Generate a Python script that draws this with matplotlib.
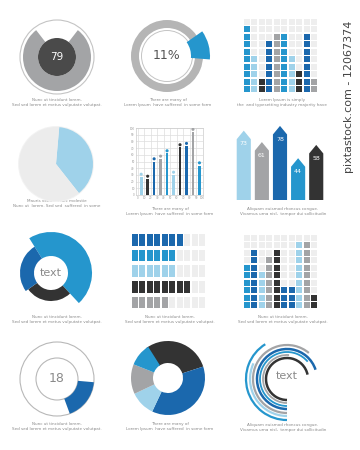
import numpy as np
import matplotlib
matplotlib.use("Agg")
import matplotlib.pyplot as plt
from matplotlib.patches import Wedge, Circle, Polygon, Arc

W, H = 360, 450
DB = '#1b68ad'; MB = '#2596cd'; LB = '#9fd2ea'; GR = '#a3a4a6'; DK = '#333333'
EMPTY = '#eeeeee'; LINE = '#c4c4c4'; TXT = '#8a8a8a'

# ---------------- data ----------------
gauge_value = 79
percent_value = 11
grid1_heights = [9, 5, 2, 7, 8, 8, 5, 3, 8, 2]
grid1_colors = [MB, LB, DK, DB, GR, MB, LB, DK, DB, GR]
pie_share = [38, 62]
bar_values = [27, 24, 50, 54, 62, 30, 71, 73, 94, 44]
dot_values = [31, 28, 54, 58, 66, 34, 75, 77, 98, 48]
bar_colors = [LB, DK, DB, GR, MB, LB, DK, DB, GR, MB]
arrow_values = [73, 61, 78, 44, 58]
arrow_colors = [LB, GR, DB, MB, DK]
seg_share = [47, 27, 26]
seg_outer = [41, 28, 31]
seg_colors = [MB, DK, DB]
hbar_counts = [7, 6, 6, 8, 5]
hbar_colors = [DB, MB, LB, DK, GR]
grid2_heights = [6, 8, 5, 7, 8, 3, 3, 9, 9, 2]
grid2_colors = [MB, DB, LB, GR, DK, DB, DB, LB, GR, DK]
ring_value = 18
donut_shares = [30, 37, 11, 13, 10]
donut_colors = [DK, DB, LB, GR, MB]
arc_radii = [41, 37, 34, 30, 27, 24, 21]
arc_start = [122, 155, 50, 18, 40, 85, 12]
arc_colors = [MB, LB, GR, DB, MB, GR, DK]
arc_widths = [1.6, 1.6, 1.6, 1.8, 1.3, 1.3, 1.8]

captions = [
    ("Nunc ut tincidunt lorem.", "Sed sed lorem et metus vulputate volutpat."),
    ("There are many of", "Lorem Ipsum  have suffered  in some form"),
    ("Lorem Ipsum is simply", "the  and typesetting industry majority have"),
    ("Mauris vehicula nec molestie", "Nunc ut  lorem. Sed sed  suffered  in some"),
    ("There are many of", "Lorem Ipsum  have suffered  in some form"),
    ("Aliquam euismod rhoncus congue.", "Vivamus urna nisl,  tempor dui sollicitudin"),
    ("Nunc ut tincidunt lorem.", "Sed sed lorem et metus vulputate volutpat."),
    ("Nunc ut tincidunt lorem.", "Sed sed lorem et metus vulputate volutpat."),
    ("Nunc ut tincidunt lorem.", "Sed sed lorem et metus vulputate volutpat."),
    ("Nunc ut tincidunt lorem.", "Sed sed lorem et metus vulputate volutpat."),
    ("There are many of", "Lorem Ipsum  have suffered  in some form"),
    ("Aliquam euismod rhoncus congue.", "Vivamus urna nisl,  tempor dui sollicitudin"),
]
caption_x = [57, 168, 282, 57, 170, 283, 57, 170, 283, 57, 170, 283]
caption_y = [100, 100, 100, 201, 209, 209, 317, 317, 317, 424, 424, 425]

fig = plt.figure(figsize=(3.6, 4.5), dpi=100)
fig.patch.set_facecolor('white')

bg = fig.add_axes([0, 0, 1, 1])
bg.set_xlim(0, W); bg.set_ylim(H, 0); bg.axis('off')


def circ_ax(cx, cy, w, h):
    ax = fig.add_axes([(cx - w / 2) / W, 1 - (cy + h / 2) / H, w / W, h / H])
    ax.set_xlim(-w / 2, w / 2); ax.set_ylim(-h / 2, h / 2)
    ax.axis('off')
    return ax


def box_ax(x0, y0, w, h):
    ax = fig.add_axes([x0 / W, 1 - (y0 + h) / H, w / W, h / H])
    return ax


# ---- panel 1: gauge 79 ----
ax = circ_ax(57, 57, 90, 90)
gap = 100 - gauge_value
st = 90 - gap * 3.6 / 2
ax.add_patch(Wedge((0, 0), 34, st - gauge_value * 3.6, st, width=15, color=GR, lw=0))
ax.add_patch(Circle((0, 0), 19, color='#4a4a4a', lw=0))
ax.add_patch(Circle((0, 0), 37, fill=False, ec=LINE, lw=0.8))
ax.text(0, 0, str(gauge_value), color='white', fontsize=7.5, ha='center', va='center')

# ---- panel 2: 11% ----
ax = circ_ax(167, 56, 96, 96)
ax.add_patch(Wedge((0, 0), 36, 0, 360, width=8, color='#b5b5b5', lw=0))
ax.add_patch(Circle((0, 0), 25.5, fill=False, ec=LINE, lw=0.7))
ax.add_patch(Wedge((0, 0), 43, 35 - percent_value * 3.6, 35, width=19, color=MB, lw=0))
ax.text(0, 0, f"{percent_value}%", color='#555555', fontsize=9, ha='center', va='center')

# ---- panel 3: column grid ----
ax = box_ax(243, 18, 75, 75)
cols = np.arange(10)
for r in range(10):
    cc = [grid1_colors[c] if r < grid1_heights[c] else EMPTY for c in cols]
    ax.bar(cols, 0.86, bottom=r + 0.07, width=0.86, color=cc, lw=0)
ax.set_xlim(-0.5, 9.5); ax.set_ylim(0, 10); ax.axis('off')

# ---- panel 4: pie ----
ax = circ_ax(56, 164, 90, 90)
ax.add_patch(Circle((0, 0), 38, color='#f3f3f3', lw=0))
a0 = 85
ax.add_patch(Wedge((0, 0), 37, a0 - pie_share[0] * 3.6, a0, color=LB, lw=0))
ax.add_patch(Wedge((0, 0), 37, a0, a0 + pie_share[1] * 3.6, color='#ececec', lw=0))

# ---- panel 5: bar chart ----
ax = box_ax(136, 128, 67, 67)
pos = np.arange(1, 11)
ax.bar(pos, bar_values, width=0.42, color=bar_colors, zorder=3)
ax.scatter(pos, dot_values, s=5, c=bar_colors, zorder=4, lw=0)
ax.set_ylim(0, 100); ax.set_xlim(0.2, 10.55)
ax.set_yticks(np.arange(0, 101, 10))
ax.set_xticks(np.arange(0.5, 11, 1))
ax.set_xticklabels([str(i) for i in range(0, 110, 10)])
ax.tick_params(labelsize=2, colors='#999999', length=0, pad=1)
ax.grid(True, color='#dddddd', lw=0.5, zorder=0)
for s in ax.spines.values():
    s.set_color('#cccccc'); s.set_linewidth(0.5)

# ---- panel 6: arrows ----
ax = box_ax(232, 118, 96, 82)
ax.set_xlim(-0.65, 4.65); ax.set_ylim(0, 82 / 0.95); ax.axis('off')
hw = 0.39
for i, (v, c) in enumerate(zip(arrow_values, arrow_colors)):
    ax.add_patch(Polygon([(i - hw, 0), (i + hw, 0), (i + hw, v - 9), (i, v), (i - hw, v - 9)],
                         closed=True, color=c, lw=0))
    ax.text(i, v - 14, str(v), color='white', fontsize=4.5, ha='center', va='center')

# ---- panel 7: varying donut ----
ax = circ_ax(51, 273, 100, 100)
a = 122
for sh, ro, c in zip(seg_share, seg_outer, seg_colors):
    ax.add_patch(Wedge((0, 0), ro, a - sh * 3.6, a, width=ro - 17, color=c, lw=0))
    a -= sh * 3.6
ax.text(0, 0, "text", color='#8a8a8a', fontsize=8, ha='center', va='center')

# ---- panel 8: horizontal cell bars ----
ax = box_ax(131, 234, 75, 75)
ax.set_xlim(-0.1, 9.9); ax.set_ylim(0, 75); ax.axis('off')
for k, (n, c) in enumerate(zip(hbar_counts, hbar_colors)):
    cc = [c if j < n else EMPTY for j in range(10)]
    ax.bar(np.arange(10) + 0.4, 11.5, bottom=75 - k * 15.7 - 11.5, width=0.78, color=cc, lw=0)

# ---- panel 9: column grid ----
ax = box_ax(243, 234, 75, 75)
for r in range(10):
    cc = [grid2_colors[c] if r < grid2_heights[c] else EMPTY for c in cols]
    ax.bar(cols, 0.86, bottom=r + 0.07, width=0.86, color=cc, lw=0)
ax.set_xlim(-0.5, 9.5); ax.set_ylim(0, 10); ax.axis('off')

# ---- panel 10: ring 18 ----
ax = circ_ax(57, 379, 90, 90)
ax.add_patch(Circle((0, 0), 37, fill=False, ec='#b8b8b8', lw=0.8))
ax.add_patch(Circle((0, 0), 21, fill=False, ec='#b8b8b8', lw=0.8))
ax.add_patch(Wedge((0, 0), 37, -5 - ring_value * 3.6, -5, width=16, color=DB, lw=0))
ax.text(0, 0, str(ring_value), color='#8a8a8a', fontsize=9, ha='center', va='center')

# ---- panel 11: donut ----
ax = circ_ax(168, 378, 90, 90)
a = 126
for sh, c in zip(donut_shares, donut_colors):
    ax.add_patch(Wedge((0, 0), 37, a - sh * 3.6, a, width=22, color=c, lw=0))
    a -= sh * 3.6

# ---- panel 12: arcs ----
ax = circ_ax(287, 379, 100, 100)
for r, s, c, lw in zip(arc_radii, arc_start, arc_colors, arc_widths):
    ax.add_patch(Arc((0, 0), 2 * r, 2 * r, theta1=s, theta2=270, color=c, lw=lw))
ax.text(0, 3, "text", color='#8a8a8a', fontsize=8, ha='center', va='center')

# ---- captions ----
for (l1, l2), x, y in zip(captions, caption_x, caption_y):
    bg.text(x, y, l1, fontsize=3, color=TXT, ha='center', va='center')
    bg.text(x, y + 4.8, l2, fontsize=3, color=TXT, ha='center', va='center')

# watermark id
bg.text(349, 97, "pixtastock.com - 12067374", rotation=90, fontsize=8,
        color='#444444', ha='center', va='center')

fig.savefig("out.png", dpi=100, facecolor='white')
